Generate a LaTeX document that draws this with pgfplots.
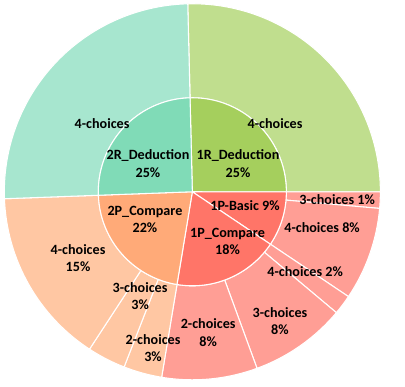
\documentclass[border=0pt]{standalone}
\usepackage{pgfplots}
\pgfplotsset{compat=1.18}
\usepackage{fontspec}
\setmainfont{Carlito}
\definecolor{inR1}{HTML}{A5CF5D}
\definecolor{outR1}{HTML}{C0DE8E}
\definecolor{inR2}{HTML}{80DBB7}
\definecolor{outR2}{HTML}{A7E6CF}
\definecolor{inP2}{HTML}{FFAA78}
\definecolor{outP2}{HTML}{FFC7A3}
\definecolor{inP1}{HTML}{FF7568}
\definecolor{outP1}{HTML}{FF9E95}
\tikzset{lbl/.style={font=\bfseries\fontsize{10.6}{12.8}\selectfont, align=center, text=black, inner sep=0pt}}

\newcommand\startangle{91.4}
% #1 inner radius, #2 outer radius (fraction of pie radius), #3 list value(%)/colour
\newcommand\ring[3]{%
  \xdef\cum{0}%
  \foreach \v/\c in {#3}{%
    \pgfmathsetmacro\aS{\startangle-3.6*\cum}%
    \pgfmathsetmacro\aE{\startangle-3.6*(\cum+\v)}%
    \pgfmathsetmacro\rI{#1*141}%
    \pgfmathsetmacro\rO{#2*141}%
    \edef\tmp{\noexpand\filldraw[fill=\c, draw=white, line width=0.8pt, shift={(axis cs:0,0)}]
      (\aS:\rO pt) arc[start angle=\aS, end angle=\aE, radius=\rO pt]
      -- (\aE:\rI pt) arc[start angle=\aE, end angle=\aS, radius=\rI pt] -- cycle;}%
    \tmp
    \pgfmathparse{\cum+\v}\xdef\cum{\pgfmathresult}%
  }%
}

\begin{document}
\begin{tikzpicture}
\begin{axis}[x=141pt, y=141pt, xmin=-1.023, xmax=1.131, ymin=-1.034, ymax=1.020,
  hide axis, clip=false, scale only axis]
\path (axis cs:-1.023,-1.034) rectangle (axis cs:1.131,1.020);
% outer ring: 1R 4-choices | 1P-Basic: 3ch, 4ch | 1P_Compare: 4ch, 3ch, 2ch | 2P_Compare: 2ch, 3ch, 4ch | 2R 4-choices
\ring{0.5}{1.0}{25.4/outR1, 1.4/outP1, 8.0/outP1, 1.7/outP1, 8.3/outP1, 8.2/outP1, 3.3/outP2, 3.3/outP2, 15.2/outP2, 25.2/outR2}
% inner ring: 1R_Deduction, 1P-Basic, 1P_Compare, 2P_Compare, 2R_Deduction
\ring{0.001}{0.5}{25.4/inR1, 9.4/inP1, 18.2/inP1, 21.8/inP2, 25.2/inR2}

\node[lbl] at (axis cs:-0.480,0.360) {4-choices};
\node[lbl] at (axis cs:0.440,0.360) {4-choices};
\node[lbl] at (axis cs:-0.236,0.150) {2R\_Deduction\\25\%};
\node[lbl] at (axis cs:0.243,0.150) {1R\_Deduction\\25\%};
\node[lbl] at (axis cs:0.280,-0.071) {1P-Basic 9\%};
\node[lbl] at (axis cs:0.187,-0.265) {1P\_Compare\\18\%};
\node[lbl] at (axis cs:0.770,-0.039) {3-choices 1\%};
\node[lbl] at (axis cs:0.690,-0.193) {4-choices 8\%};
\node[lbl] at (axis cs:0.600,-0.422) {4-choices 2\%};
\node[lbl] at (axis cs:0.466,-0.690) {3-choices\\8\%};
\node[lbl] at (axis cs:0.084,-0.749) {2-choices\\8\%};
\node[lbl] at (axis cs:-0.252,-0.148) {2P\_Compare\\22\%};
\node[lbl] at (axis cs:-0.608,-0.355) {4-choices\\15\%};
\node[lbl] at (axis cs:-0.278,-0.557) {3-choices\\3\%};
\node[lbl] at (axis cs:-0.209,-0.829) {2-choices\\3\%};
\end{axis}
\end{tikzpicture}
\end{document}
